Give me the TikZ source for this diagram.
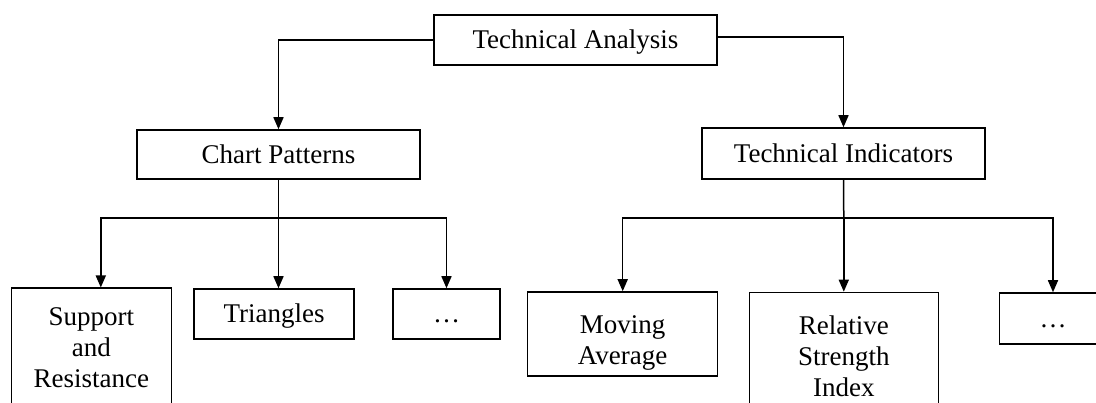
\documentclass[tikz,border=0pt]{standalone}
\usepackage{fontspec}
\setmainfont{Liberation Serif}
\usetikzlibrary{arrows.meta}

\begin{document}
\begin{tikzpicture}[x=1pt, y=-1pt, line width=1.5pt,
	box/.style={draw, rectangle, align=center, inner sep=2pt,
		minimum width=#1, font=\fontsize{27}{31}\selectfont},
	box/.default=160pt,
	oneline/.style={minimum height=#1, text height=19pt, text depth=1pt},
	oneline/.default=50pt,
	->/.style={-{Triangle[length=12pt, width=10pt]}}]
	\path[use as bounding box, clip] (0,0) rectangle (1096,403);
	\node[box=283pt, oneline] (ta) at (575.5,40) {Technical Analysis};
	\node[box=283pt, oneline=49pt] (cp) at (278.5,154.5) {Chart Patterns};
	\node[box=283pt, oneline=51pt] (ti) at (843.5,153.5) {Technical Indicators};
	\node[box, minimum height=118pt, anchor=north] (sr) at (91.3,287.5) {Support\\and\\Resistance};
	\node[box, oneline] (tri) at (274.2,314) {Triangles};
	\node[box=107pt, oneline] (dotsa) at (446.5,314) {…};
	\node[box=190pt, minimum height=84pt, text height=66pt] (ma) at (622.7,334) {Moving\\Average};
	\node[box=189pt, minimum height=118pt, text height=91pt, anchor=north] (rsi) at (843.8,291.7) {Relative\\Strength\\Index};
	\node[box=107pt, oneline=51pt] (dotsb) at (1053,318.5) {…};
	\coordinate (cpj) at (278.5,218);
	\coordinate (tij) at (843.8,218);
	\draw[->] (ta.west) -| (cp.north);
	\draw[->] ([yshift=3pt]ta.east) -| (ti.north);
	\draw (cp.south) -- (cpj);
	\draw[->] (cpj) -| ([xshift=9.5pt]sr.north);
	\draw[->] (cpj) -- (cpj |- tri.north);
	\draw[->] (cpj) -| (dotsa.north);
	\draw (ti.south) -- (tij);
	\draw[->] (tij) -| (ma.north);
	\draw[->] (tij) -- (rsi.north);
	\draw[->] (tij) -| (dotsb.north);
\end{tikzpicture}
\end{document}
